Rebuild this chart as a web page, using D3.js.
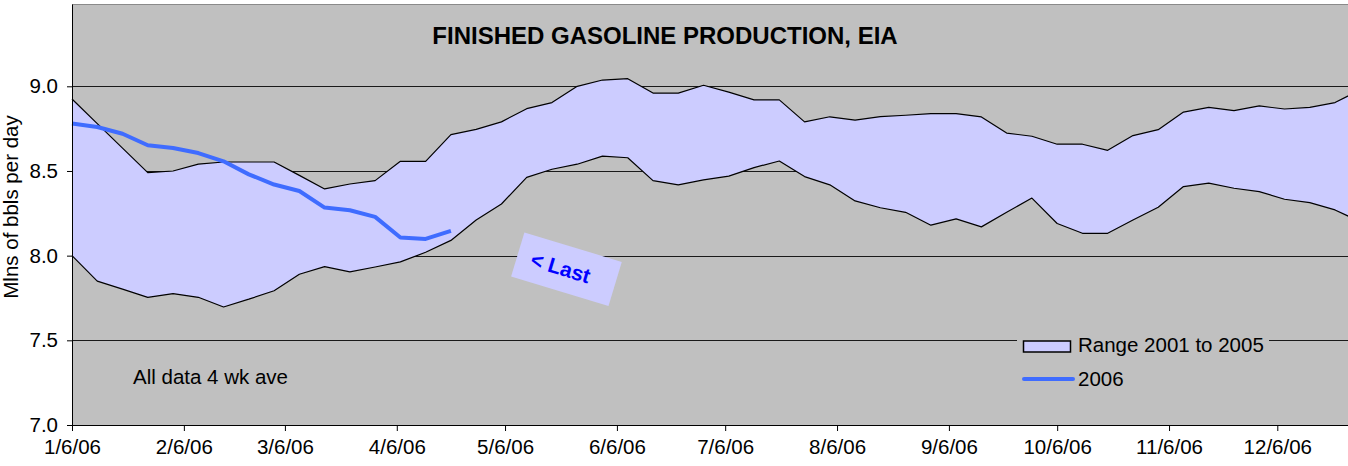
<!DOCTYPE html>
<html>
<head>
<meta charset="utf-8">
<script src="https://cdn.jsdelivr.net/npm/d3@7/dist/d3.min.js"></script>
<style>
  html, body { margin: 0; padding: 0; background: #ffffff; overflow: hidden; }
  svg { display: block; font-family: "Liberation Sans", Arial, sans-serif; }
</style>
</head>
<body>
<script>
// Weekly finished gasoline production (million barrels per day), 4-week averages.
const weekStart = "2006-01-06";      // first weekly observation
const weekCount = 52;

// Five-year range (2001-2005): weekly high and low
const rangeHigh = [
  8.925, 8.78, 8.635, 8.49, 8.50, 8.54, 8.553, 8.553, 8.553, 8.474,
  8.394, 8.423, 8.443, 8.557, 8.557, 8.715, 8.746, 8.79, 8.868, 8.904,
  9.00, 9.037, 9.045, 8.96, 8.96, 9.006, 8.966, 8.92, 8.92, 8.79,
  8.82, 8.80, 8.821, 8.829, 8.839, 8.839, 8.819, 8.724, 8.705, 8.658,
  8.658, 8.622, 8.709, 8.744, 8.848, 8.876, 8.856, 8.884, 8.866, 8.876,
  8.904, 8.98
];
const rangeLow = [
  8.00, 7.85, 7.802, 7.754, 7.776, 7.754, 7.697, 7.743, 7.793, 7.89,
  7.935, 7.904, 7.933, 7.963, 8.02, 8.09, 8.21, 8.305, 8.462, 8.51,
  8.54, 8.588, 8.578, 8.443, 8.418, 8.447, 8.47, 8.52, 8.559, 8.467,
  8.418, 8.323, 8.283, 8.256, 8.18, 8.217, 8.17, 8.256, 8.34, 8.19,
  8.132, 8.132, 8.21, 8.286, 8.408, 8.428, 8.398, 8.378, 8.333, 8.313,
  8.27, 8.20
];
// 2006 so far
const values2006 = [
  8.78, 8.76, 8.72, 8.652, 8.636, 8.606, 8.557, 8.48, 8.42, 8.382,
  8.284, 8.268, 8.229, 8.107, 8.099, 8.146
];

const yTicks = [7.0, 7.5, 8.0, 8.5, 9.0];
const xTickDates = ["2006-01-06", "2006-02-06", "2006-03-06", "2006-04-06", "2006-05-06", "2006-06-06",
                    "2006-07-06", "2006-08-06", "2006-09-06", "2006-10-06", "2006-11-06", "2006-12-06"];
const xTickLabels = ["1/6/06", "2/6/06", "3/6/06", "4/6/06", "5/6/06", "6/6/06",
                     "7/6/06", "8/6/06", "9/6/06", "10/6/06", "11/6/06", "12/6/06"];

const titleText = "FINISHED GASOLINE PRODUCTION, EIA";
const yAxisTitle = "Mlns of bbls per day";
const noteText = "All data 4 wk ave";
const calloutText = "< Last";
const calloutAt = { date: "2006-05-23", value: 7.92 };
const legendLabels = ["Range 2001 to 2005", "2006"];

// ---- layout ----
const W = 1348, H = 466;
const parse = d3.utcParse("%Y-%m-%d");
const t0 = parse(weekStart);
const dates = d3.range(weekCount).map(i => d3.utcDay.offset(t0, 7 * i));
const tEnd = dates[dates.length - 1];

const plotLeft = 72, plotTop = 4, plotBottom = 425;
const pxPerDay = 3.6087;
const plotRight = plotLeft + d3.utcDay.count(t0, tEnd) * pxPerDay;

const x = d3.scaleUtc().domain([t0, tEnd]).range([plotLeft, plotRight]);
const y = d3.scaleLinear().domain([7.0, 9.486]).range([plotBottom, plotTop]);

const BAND = "#ccccff", PLOT_BG = "#c0c0c0", BLUE = "#3f6cff";

const svg = d3.select("body").append("svg").attr("width", W).attr("height", H);

// plot background
svg.append("rect")
  .attr("x", plotLeft).attr("y", plotTop)
  .attr("width", plotRight - plotLeft).attr("height", plotBottom - plotTop)
  .attr("fill", PLOT_BG);
svg.append("line")
  .attr("x1", plotLeft).attr("x2", plotRight)
  .attr("y1", plotTop + 0.5).attr("y2", plotTop + 0.5)
  .attr("stroke", "#8a8a8a").attr("stroke-width", 1);

// horizontal gridlines
svg.append("g").selectAll("line")
  .data(yTicks.filter(v => v > 7.0))
  .join("line")
  .attr("x1", plotLeft).attr("x2", plotRight)
  .attr("y1", d => Math.round(y(d)) + 0.5).attr("y2", d => Math.round(y(d)) + 0.5)
  .attr("stroke", "#1a1a1a").attr("stroke-width", 1);

// range band
const bandData = dates.map((d, i) => ({ date: d, lo: rangeLow[i], hi: rangeHigh[i] }));
svg.append("path")
  .datum(bandData)
  .attr("fill", BAND)
  .attr("d", d3.area().x(d => x(d.date)).y0(d => y(d.lo)).y1(d => y(d.hi)));

const edge = d3.line().x(d => x(d.date)).y(d => y(d.v));
[rangeHigh, rangeLow].forEach(series => {
  svg.append("path")
    .datum(dates.map((d, i) => ({ date: d, v: series[i] })))
    .attr("fill", "none").attr("stroke", "#000").attr("stroke-width", 1.2)
    .attr("stroke-linejoin", "round")
    .attr("d", edge);
});

// 2006 line
svg.append("path")
  .datum(values2006.map((v, i) => ({ date: dates[i], v })))
  .attr("fill", "none").attr("stroke", BLUE).attr("stroke-width", 4)
  .attr("stroke-linejoin", "round")
  .attr("d", edge);

// axes
const yAxis = svg.append("g")
  .attr("transform", `translate(${plotLeft},0)`)
  .call(d3.axisLeft(y).tickValues(yTicks).tickFormat(d3.format(".1f"))
    .tickSize(5).tickSizeOuter(0).tickPadding(9));
yAxis.select(".domain").attr("stroke", "#000");
yAxis.selectAll("text").attr("font-size", 20.5).attr("fill", "#000")
  .attr("font-family", "Liberation Sans, Arial, sans-serif");

const xAxis = svg.append("g")
  .attr("transform", `translate(0,${plotBottom})`)
  .call(d3.axisBottom(x).tickValues(xTickDates.map(parse))
    .tickFormat((d, i) => xTickLabels[i]).tickSize(6).tickSizeOuter(0).tickPadding(8));
xAxis.select(".domain").attr("stroke", "#000");
xAxis.selectAll("text").attr("font-size", 20.5).attr("fill", "#000")
  .attr("font-family", "Liberation Sans, Arial, sans-serif");

// title
svg.append("text")
  .attr("x", 665).attr("y", 44)
  .attr("text-anchor", "middle")
  .attr("font-size", 24).attr("font-weight", "bold").attr("fill", "#000")
  .text(titleText);

// y-axis title
svg.append("text")
  .attr("transform", "translate(18,207) rotate(-90)")
  .attr("text-anchor", "middle")
  .attr("font-size", 20.5).attr("fill", "#000")
  .text(yAxisTitle);

// note
svg.append("text")
  .attr("x", 133).attr("y", 384)
  .attr("font-size", 20.5).attr("fill", "#000")
  .text(noteText);

// callout box
const callout = svg.append("g")
  .attr("transform", `translate(${x(parse(calloutAt.date))},${y(calloutAt.value)}) rotate(16.8)`);
callout.append("rect")
  .attr("x", -50.8).attr("y", -23).attr("width", 101.7).attr("height", 46)
  .attr("fill", BAND);
callout.append("text")
  .attr("x", -6).attr("y", 0).attr("dy", "0.36em")
  .attr("text-anchor", "middle")
  .attr("font-size", 21).attr("font-weight", "bold").attr("fill", "#0000ff")
  .text(calloutText);

// legend
const legend = svg.append("g");
legend.append("rect")
  .attr("x", 1017).attr("y", 328).attr("width", 252).attr("height", 66)
  .attr("fill", PLOT_BG);
legend.append("rect")
  .attr("x", 1023.5).attr("y", 341).attr("width", 47).attr("height", 11)
  .attr("fill", BAND).attr("stroke", "#000").attr("stroke-width", 1.5);
legend.append("text")
  .attr("x", 1078).attr("y", 352)
  .attr("font-size", 20.5).attr("fill", "#000")
  .text(legendLabels[0]);
legend.append("line")
  .attr("x1", 1024).attr("x2", 1073).attr("y1", 379).attr("y2", 379)
  .attr("stroke", BLUE).attr("stroke-width", 4).attr("stroke-linecap", "round");
legend.append("text")
  .attr("x", 1078).attr("y", 386)
  .attr("font-size", 20.5).attr("fill", "#000")
  .text(legendLabels[1]);
</script>
</body>
</html>
